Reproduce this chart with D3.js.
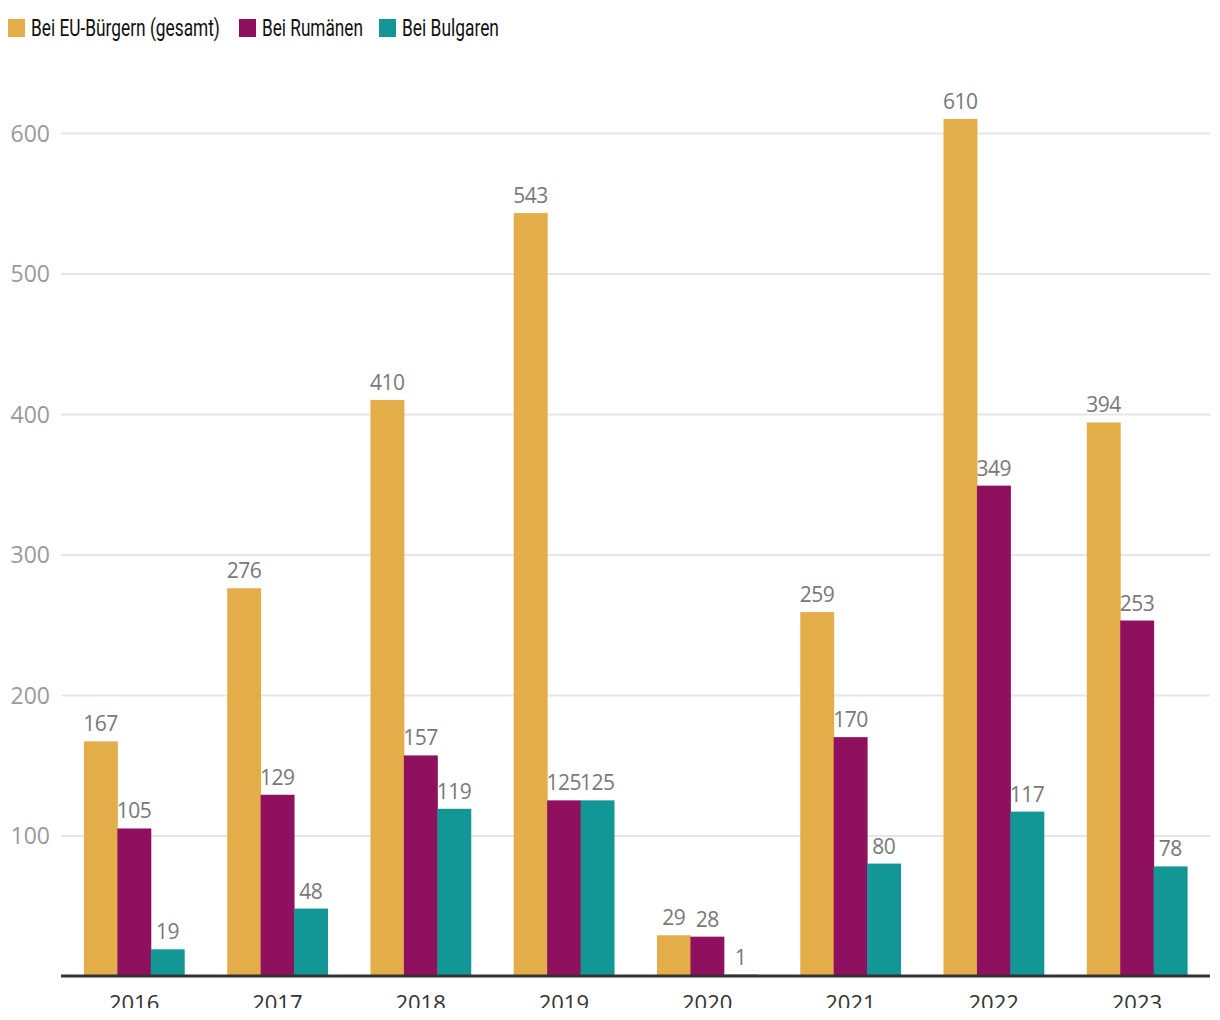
<!DOCTYPE html>
<html><head><meta charset="utf-8">
<script src="https://cdn.jsdelivr.net/npm/d3@7"></script>
<style>
html,body{margin:0;padding:0;background:#fff;overflow:hidden;}
svg{display:block;}
</style></head><body>
<script>
const years = ["2016","2017","2018","2019","2020","2021","2022","2023"];
const seriesNames = ["Bei EU-Bürgern (gesamt)","Bei Rumänen","Bei Bulgaren"];
const euTotal = [167,276,410,543,29,259,610,394];
const romanians = [105,129,157,125,28,170,349,253];
const bulgarians = [19,48,119,125,1,80,117,78];
const yTicks = [100,200,300,400,500,600];
const colors = ["#E3AE4A","#8E105E","#139696"];

const W=1220,H=1020;
const svg=d3.select("body").append("svg").attr("width",W).attr("height",H);
const mLeft=61,mRight=1210,mBottom=976;
const numFont="'Open Sans', 'Noto Sans', sans-serif";
const condFont="'Roboto','Liberation Sans',sans-serif";

const x=d3.scaleBand().domain(years).range([mLeft,mRight]).paddingInner(0.3).paddingOuter(0.16);
const xs=d3.scaleBand().domain([0,1,2]).range([0,x.bandwidth()]);
const y=d3.scaleLinear().domain([0,600]).range([mBottom,133]);

// grid
const yAxis=d3.axisLeft(y).tickValues(yTicks).tickSize(-(mRight-mLeft)).tickFormat(d3.format("d"));
const g=svg.append("g").attr("transform",`translate(${mLeft},0)`).call(yAxis);
g.select(".domain").remove();
g.selectAll(".tick line").attr("stroke","#e6e6e6").attr("stroke-width",2);
g.selectAll(".tick text").attr("x",-11).attr("dy","0.36em").attr("fill","#9a9a9a")
 .style("font-family",numFont).style("font-size","23px");

const data=[euTotal,romanians,bulgarians];
data.forEach((arr,si)=>{
  svg.append("g").selectAll("rect").data(arr).join("rect")
   .attr("x",(d,i)=>x(years[i])+xs(si))
   .attr("width",xs.bandwidth()+0.5)
   .attr("y",d=>y(d)).attr("height",d=>mBottom-y(d))
   .attr("fill",colors[si]);
});

// x axis
const xAxis=d3.axisBottom(x).tickSize(0).tickPadding(0);
const gx=svg.append("g").attr("transform",`translate(0,${mBottom})`).call(xAxis);
gx.select(".domain").attr("stroke","#333").attr("stroke-width",3).attr("d",`M${mLeft},0H${mRight}`);
gx.selectAll(".tick text").attr("y",35).attr("dy",0).attr("fill","#333")
 .style("font-family",numFont).style("font-size","22px");
// bottom clip like the reference
svg.append("rect").attr("x",0).attr("y",1008).attr("width",W).attr("height",H-1008).attr("fill","#fff");

// value labels
data.forEach((arr,si)=>{
  svg.append("g").selectAll("text").data(arr).join("text")
   .attr("x",(d,i)=>x(years[i])+xs(si)+xs.bandwidth()/2)
   .attr("y",d=>y(d)-10)
   .attr("text-anchor","middle").attr("fill","#787878")
   .style("font-family",numFont).style("font-size","21px").style("letter-spacing","-0.5px")
   .text(d=>d);
});

// legend
const legendX=[8,239,379];
const legendW=[189,101,97];
seriesNames.forEach((n,i)=>{
  svg.append("rect").attr("x",legendX[i]).attr("y",19).attr("width",17).attr("height",18).attr("fill",colors[i]);
  const lg=svg.append("g");
  const t=lg.append("text").attr("x",0).attr("y",0).attr("fill","#111")
   .style("font-family",condFont).style("font-size","23px").text(n);
  const nat=t.node().getComputedTextLength();
  lg.attr("transform",`translate(${legendX[i]+23},36) scale(${legendW[i]/nat},1)`);
});
</script>
</body></html>
